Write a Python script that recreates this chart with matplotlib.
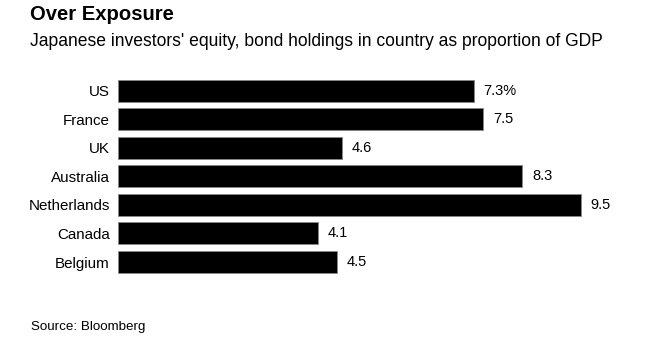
import matplotlib
matplotlib.use("Agg")
import matplotlib.pyplot as plt

plt.rcParams['font.family'] = ['Liberation Sans', 'DejaVu Sans']

countries = ["US", "France", "UK", "Australia", "Netherlands", "Canada", "Belgium"]
values = [7.3, 7.5, 4.6, 8.3, 9.5, 4.1, 4.5]
value_labels = ["7.3%", "7.5", "4.6", "8.3", "9.5", "4.1", "4.5"]

W, H = 660, 352
fig = plt.figure(figsize=(W/100, H/100), dpi=100)
ax = fig.add_axes([118.3/W, 1-276.3/H, 486.7/W, (276.3-76.25)/H])

y = list(range(len(countries)))
ax.barh(y, values, height=0.77, color="black", edgecolor="#888888", linewidth=0.6)
ax.set_xlim(0, 10)
ax.set_ylim(len(countries)-0.5, -0.5)
ax.set_yticks(y)
ax.set_yticklabels(countries, fontsize=10.9)
ax.tick_params(axis='y', length=0, pad=6)
ax.set_xticks([])
for s in ax.spines.values():
    s.set_visible(False)
for yi, v, lab in zip(y, values, value_labels):
    ax.annotate(lab, (v, yi), xytext=(7, 0), textcoords="offset points",
                va="center", ha="left", fontsize=10.5)

fig.text(30/W, 1-15/H, "Over Exposure", fontsize=14.6, fontweight="bold", va="center", ha="left")
fig.text(30/W, 1-41/H, "Japanese investors' equity, bond holdings in country as proportion of GDP",
         fontsize=12.65, va="center", ha="left")
fig.text(31/W, 1-327/H, "Source: Bloomberg", fontsize=9.6, va="center", ha="left")

fig.savefig("out.png", dpi=100)
